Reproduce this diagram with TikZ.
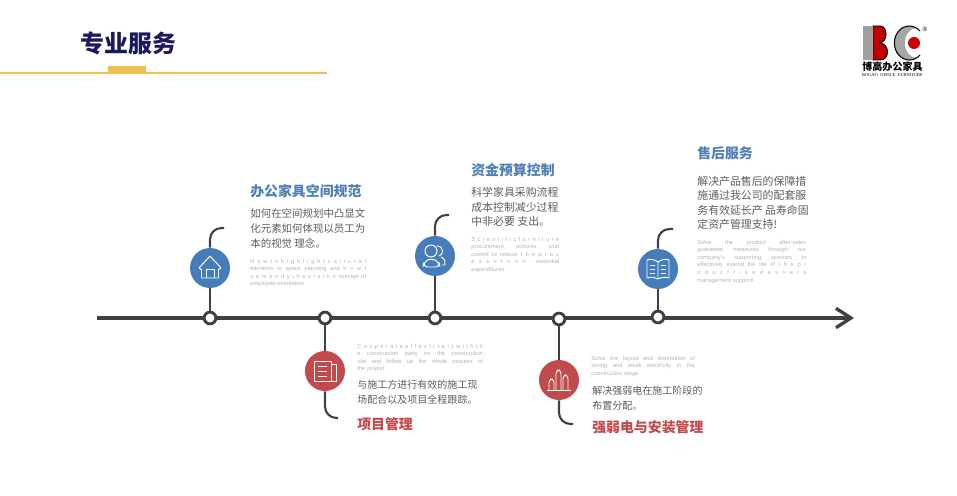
\documentclass[tikz,border=0pt]{standalone}
\usepackage{fontspec}
\usepackage{amsmath}
\usetikzlibrary{arrows.meta}
\setmainfont{Liberation Sans}
\newfontfamily\cjk{Noto Sans CJK SC}
\newfontfamily\logoserif{Liberation Serif}
\definecolor{axisdark}{HTML}{404040}
\definecolor{titlenavy}{HTML}{1B1A5E}
\definecolor{ruleyellow}{HTML}{F2BF55}
\definecolor{iconblue}{HTML}{457DBB}
\definecolor{iconred}{HTML}{C04A4C}
\definecolor{headblue}{HTML}{4F7FB8}
\definecolor{headred}{HTML}{C5484C}
\definecolor{bodygray}{HTML}{5C5C5C}
\definecolor{englishgray}{HTML}{B4B4B4}
\newcommand{\spreadline}[2]{\makebox[#1][s]{#2}}
\tikzset{
  tick/.style={circle, draw=axisdark, fill=white, line width=1.6pt, minimum size=0.235cm, inner sep=0pt},
  iconblob/.style={circle, minimum size=0.8cm, inner sep=0pt},
  stem/.style={draw=axisdark, line width=1.2pt},
  hook/.style={stem, rounded corners=6.5pt},
  iconline/.style={draw=white, line width=0.55pt, line join=round},
  heading/.style={anchor=west, inner sep=0pt, font=\cjk\bfseries\fontsize{7.9}{9}\selectfont},
  bodytext/.style={anchor=north west, inner sep=0pt, align=left, text=bodygray, font=\cjk\fontsize{5.95}{8.5}\selectfont},
  englishtext/.style={anchor=north west, inner sep=0pt, align=left, text=englishgray, font=\fontsize{3.3}{4.35}\selectfont},
}
\begin{document}
\begin{tikzpicture}[x=0.02cm, y=-0.02cm, >=stealth]
  \useasboundingbox (0,0) rectangle (957,496);

  \node[anchor=west, inner sep=0pt, text=titlenavy, font=\cjk\bfseries\fontsize{13.6}{15}\selectfont] (title) at (80,43.5) {专业服务};
  \coordinate (rulestart) at (0,73);
  \coordinate (ruleend) at (327,73);
  \draw[ruleyellow, line width=1.1pt] (rulestart) -- (ruleend);
  \fill[ruleyellow] (108,66) rectangle (146,72);

  \fill[gray!75] (863,26) rectangle (872,60);
  \draw[black, fill=red!75!black, line width=0.5pt] (873,26) -- (880,26) .. controls (888,26) and (888,42) .. (880,43) .. controls (890,44) and (890,60) .. (880,60) -- (873,60) -- cycle;
  \fill[gray!70] (909,43) ellipse [x radius=15, y radius=17];
  \fill[white] (917,43) ellipse [x radius=12, y radius=15];
  \draw[black, line width=0.6pt] (920,31) arc [start angle=-45, end angle=-315, x radius=15, y radius=17];
  \fill[red!80!black] (914,43) circle [radius=6];
  \node[inner sep=0pt, font=\cjk\bfseries\fontsize{5.7}{6}\selectfont] (logoname) at (892.5,67) {博高办公家具};
  \node[inner sep=0pt, font=\logoserif\fontsize{2.5}{3}\selectfont] (logoen) at (892.5,75.5) {\spreadline{34.5pt}{BOGAO OFFICE FURNITURE}};
  \node[inner sep=0pt, font=\fontsize{3.6}{4}\selectfont] (logoreg) at (925,29) {®};

  \coordinate (axisstart) at (97,318);
  \coordinate (axisend) at (854,318);
  \draw[axisdark, line width=2.3pt, -{Straight Barb[length=8.5pt, width=11pt, line width=1.9pt]}] (axisstart) -- (axisend);

  \node[tick] (tickhome) at (210,318) {};
  \node[tick] (tickdoc) at (325,318) {};
  \node[tick] (tickpeople) at (435,318) {};
  \node[tick] (tickchart) at (559,319) {};
  \node[tick] (tickbook) at (658,317) {};

  \node[iconblob, fill=iconblue] (home) at (210,268) {};
  \node[iconblob, fill=iconred] (doc) at (325,371) {};
  \node[iconblob, fill=iconblue] (people) at (435,256) {};
  \node[iconblob, fill=iconred] (chart) at (559,380) {};
  \node[iconblob, fill=iconblue] (book) at (658,269) {};

  \coordinate (homeend) at (224,228);
  \coordinate (docend) at (338,418);
  \coordinate (peopleend) at (449,215);
  \coordinate (chartend) at (573,424);
  \coordinate (bookend) at (673,229);

  \draw[stem] (tickhome) -- (home);
  \draw[stem] (tickdoc) -- (doc);
  \draw[stem] (tickpeople) -- (people);
  \draw[stem] (tickchart) -- (chart);
  \draw[stem] (tickbook) -- (book);
  \draw[hook] (home) |- (homeend);
  \draw[hook] (doc) |- (docend);
  \draw[hook] (people) |- (peopleend);
  \draw[hook] (chart) |- (chartend);
  \draw[hook] (book) |- (bookend);

  \begin{scope}[shift={(home)}]
    \draw[iconline] (-11,0) -- (0,-12) -- (11,0);
    \draw[iconline] (-11,0) -- (-8.5,1.5) -- (-8.5,10) -- (8.5,10) -- (8.5,1.5) -- (11,0);
    \draw[iconline] (-4,10) -- (-4,1) -- (4,1) -- (4,10);
  \end{scope}
  \begin{scope}[shift={(doc)}]
    \draw[iconline] (-11,-10) rectangle (6,10);
    \draw[iconline] (6,-7) -- (11,-7) -- (11,10) -- (6,10);
    \draw[iconline] (-7,-5) -- (2,-5);
    \draw[iconline] (-7,0) -- (2,0);
    \draw[iconline] (-7,5) -- (2,5);
  \end{scope}
  \begin{scope}[shift={(people)}]
    \draw[iconline] (-4,-5) circle [radius=6];
    \draw[iconline, rounded corners=2.5pt] (-4,2) -- (-11,6) -- (-12,11) -- (5,11) -- (4,6) -- cycle;
    \draw[iconline] (2,-10) .. controls (9,-10) and (9,-1) .. (4,0);
    \draw[iconline] (6,1) .. controls (10,3) and (11,6) .. (10,9) -- (7,9);
  \end{scope}
  \begin{scope}[shift={(chart)}]
    \draw[iconline] (-12,10) -- (12,10);
    \draw[iconline, rounded corners=2pt] (-10,10) -- (-10,-1) -- (-5,-1) -- (-5,10);
    \draw[iconline, rounded corners=2pt] (-3,10) -- (-3,-10) -- (2,-10) -- (2,10);
    \draw[iconline, rounded corners=2pt] (4,10) -- (4,-5) -- (9,-5) -- (9,10);
  \end{scope}
  \begin{scope}[shift={(book)}]
    \draw[iconline] (0,-7) .. controls (-4,-10) and (-8,-10) .. (-11,-9) -- (-11,9) .. controls (-8,8) and (-4,8) .. (0,10) .. controls (4,8) and (8,8) .. (11,9) -- (11,-9) .. controls (8,-10) and (4,-10) .. (0,-7) -- (0,10);
    \draw[iconline] (-8,-4) -- (-3,-4);
    \draw[iconline] (-8,0) -- (-3,0);
    \draw[iconline] (-8,4) -- (-3,4);
    \draw[iconline] (3,-4) -- (8,-4);
    \draw[iconline] (3,0) -- (8,0);
    \draw[iconline] (3,4) -- (8,4);
  \end{scope}

  \node[heading, text=headblue] (homehead) at (250,191) {办公家具空间规范};
  \node[bodytext] (homebody) at (250,208) {如何在空间规划中凸显文\\化元素如何体现以员工为\\本的视觉 理念。};
  \node[englishtext] (homeen) at (250,258.5) {\spreadline{66pt}{H o w t o h i g h l i g h t c u l t u r a l}\\\spreadline{66pt}{elements in space planning and h o w t}\\\spreadline{66pt}{o e m b o d y t h e v i s i o n concept of}\\employee orientation};

  \node[heading, text=headblue] (peoplehead) at (471,170) {资金预算控制};
  \node[bodytext, font=\cjk\fontsize{6.2}{8.3}\selectfont] (peoplebody) at (471,187) {科学家具采购流程\\成本控制减少过程\\中非必要 支出。};
  \node[englishtext] (peopleen) at (471,236.5) {\spreadline{50pt}{S c i e n t i f i c f u r n i t u r e}\\\spreadline{50pt}{procurement process cost}\\\spreadline{50pt}{control to reduce t h e p r o c}\\\spreadline{50pt}{e s s o f n o n - essential}\\expenditures.};

  \node[heading, text=headblue] (bookhead) at (697,153) {售后服务};
  \node[bodytext, font=\cjk\fontsize{6.2}{8.1}\selectfont] (bookbody) at (697,176) {解决产品售后的保障措\\施通过我公司的配套服\\务有效延长产 品寿命固\\定资产管理支持!};
  \node[englishtext] (booken) at (697,239.5) {\spreadline{62pt}{Solve the product after-sales}\\\spreadline{62pt}{guarantee measures through our}\\\spreadline{62pt}{company's supporting services to}\\\spreadline{62pt}{effectively extend the life of t h e p r}\\\spreadline{62pt}{o d u c t f i x e d a s s e t s}\\management support!};

  \node[englishtext] (docen) at (357,343.5) {\spreadline{71.5pt}{C o o p e r a t e e f f e c t i v e l y w i t h t h}\\\spreadline{71.5pt}{e construction party on the construction}\\\spreadline{71.5pt}{site and follow up the whole process of}\\the project.};
  \node[bodytext, font=\cjk\fontsize{5.7}{8.5}\selectfont] (docbody) at (357,380) {与施工方进行有效的施工现\\场配合以及项目全程跟踪。};
  \node[heading, text=headred] (dochead) at (357,424) {项目管理};

  \node[englishtext] (charten) at (591,355.5) {\spreadline{59pt}{Solve the layout and distribution of}\\\spreadline{59pt}{strong and weak electricity in the}\\construction stage.};
  \node[bodytext, font=\cjk\fontsize{5.7}{8.5}\selectfont] (chartbody) at (592,386) {解决强弱电在施工阶段的\\布置分配。};
  \node[heading, text=headred] (charthead) at (592,427) {强弱电与安装管理};
\end{tikzpicture}
\end{document}
